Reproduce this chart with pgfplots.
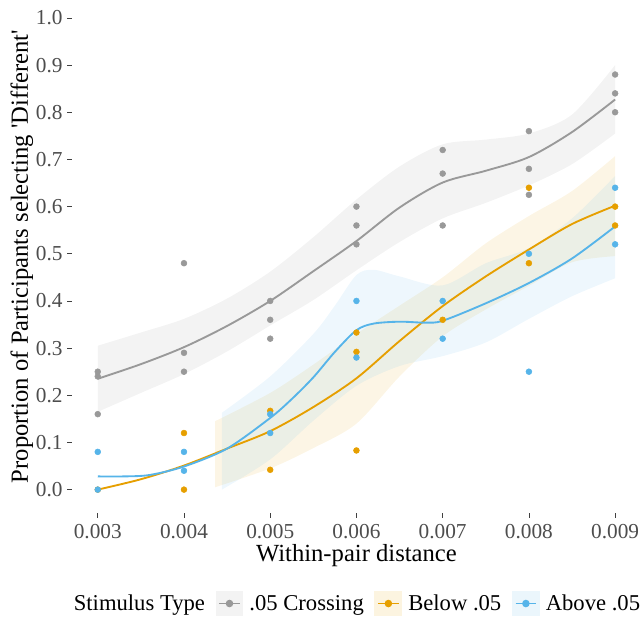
\documentclass[border=0pt]{standalone}
\usepackage{fontspec}
\setmainfont{Liberation Serif}
\newfontfamily\plainserif{Liberation Serif}
\usepackage{pgfplots}
\pgfplotsset{compat=1.18}
\usepgfplotslibrary{fillbetween}

\definecolor{cgray}{HTML}{999999}
\definecolor{corange}{HTML}{E69F00}
\definecolor{cblue}{HTML}{56B4E9}
\definecolor{ticktext}{HTML}{4D4D4D}

% legend key: light square with a line and a dot
\pgfplotsset{keybox/.style={legend image code/.code={
    \fill[#1!12] (0pt,-9pt) rectangle (19.5pt,9pt);
    \draw[#1, line width=1.3pt] (2pt,0pt) -- (17.5pt,0pt);
    \fill[#1] (9.75pt,0pt) circle (2.1pt);}}}

\begin{document}
\begin{tikzpicture}
\begin{axis}[
    at={(0pt,0pt)}, anchor=south west,
    scale only axis, width=427.5pt, height=385.5pt,
    xmin=0.0027, xmax=0.0093, ymin=-0.05, ymax=1.038,
    xtick={0.003,0.004,0.005,0.006,0.007,0.008,0.009},
    xticklabels={0.003,0.004,0.005,0.006,0.007,0.008,0.009},
    ytick={0,0.1,0.2,0.3,0.4,0.5,0.6,0.7,0.8,0.9,1},
    yticklabels={0.0,0.1,0.2,0.3,0.4,0.5,0.6,0.7,0.8,0.9,1.0},
    scaled x ticks=false, scaled y ticks=false,
    axis line style={draw=none},
    tick pos=left, tick align=outside, major tick length=3.5pt,
    tick style={color=black!75, line width=0.5pt},
    ticklabel style={font=\fontsize{16}{19}\selectfont, text=ticktext},
    xticklabel style={yshift=-1.5pt},
    xlabel={Within-pair distance},
    ylabel={Proportion of Participants selecting {\plainserif '}Different{\plainserif '}},
    xlabel style={font=\fontsize{18.5}{22}\selectfont, at={(axis description cs:0.5,-0.082)}, anchor=center},
    ylabel style={font=\fontsize{18.5}{22}\selectfont, at={(axis description cs:-0.088,0.5)}, anchor=center},
    legend columns=-1,
    legend style={at={(0.498,-0.176)}, anchor=center, draw=none, fill=none,
        font=\fontsize{17}{20}\selectfont,
        /tikz/every odd column/.append style={column sep=2.5pt},
        /tikz/every even column/.append style={column sep=6pt}},
]
\addlegendimage{empty legend}
\addlegendentry{Stimulus Type}

% confidence ribbons
\addplot[draw=none, name path=gU, smooth, forget plot] coordinates {
(0.003,0.305)(0.0035,0.333)(0.004,0.362)(0.0045,0.405)(0.005,0.462)(0.0055,0.535)(0.006,0.615)(0.0065,0.685)(0.007,0.732)(0.0075,0.742)(0.008,0.755)(0.0085,0.795)(0.009,0.90)};
\addplot[draw=none, name path=gL, smooth, forget plot] coordinates {
(0.003,0.165)(0.0035,0.205)(0.004,0.245)(0.0045,0.293)(0.005,0.348)(0.0055,0.402)(0.006,0.465)(0.0065,0.525)(0.007,0.575)(0.0075,0.608)(0.008,0.645)(0.0085,0.69)(0.009,0.755)};
\addplot[fill=cgray, fill opacity=0.12, draw=none, forget plot] fill between[of=gU and gL];

\addplot[draw=none, name path=oU, smooth, forget plot] coordinates {
(0.00436,0.145)(0.005,0.205)(0.0055,0.265)(0.006,0.33)(0.0065,0.39)(0.007,0.45)(0.0075,0.522)(0.008,0.58)(0.0085,0.633)(0.009,0.707)};
\addplot[draw=none, name path=oL, smooth, forget plot] coordinates {
(0.00436,0.005)(0.005,0.045)(0.0055,0.088)(0.006,0.14)(0.0065,0.24)(0.007,0.325)(0.0075,0.382)(0.008,0.432)(0.0085,0.482)(0.009,0.495)};
\addplot[fill=corange, fill opacity=0.1, draw=none, forget plot] fill between[of=oU and oL];

\addplot[draw=none, name path=bU, smooth, forget plot] coordinates {
(0.00444,0.163)(0.005,0.24)(0.0055,0.33)(0.00575,0.39)(0.006,0.455)(0.0062,0.466)(0.0065,0.452)(0.007,0.433)(0.0075,0.48)(0.008,0.512)(0.0085,0.575)(0.009,0.665)};
\addplot[draw=none, name path=bL, smooth, forget plot] coordinates {
(0.00444,0.0)(0.005,0.064)(0.0055,0.146)(0.006,0.22)(0.0065,0.262)(0.007,0.283)(0.0075,0.312)(0.008,0.362)(0.0085,0.41)(0.009,0.448)};
\addplot[fill=cblue, fill opacity=0.1, draw=none, forget plot] fill between[of=bU and bL];

% observed proportions
\addplot[only marks, mark=*, mark size=2.2pt, color=cgray, forget plot] coordinates {
(0.003,0.25)(0.003,0.24)(0.003,0.16)
(0.004,0.48)(0.004,0.29)(0.004,0.25)
(0.005,0.40)(0.005,0.36)(0.005,0.32)
(0.006,0.60)(0.006,0.56)(0.006,0.52)
(0.007,0.72)(0.007,0.67)(0.007,0.56)
(0.008,0.76)(0.008,0.68)(0.008,0.625)
(0.009,0.88)(0.009,0.84)(0.009,0.80)};
\addplot[only marks, mark=*, mark size=2.2pt, color=corange, forget plot] coordinates {
(0.003,0.0)(0.004,0.12)(0.004,0.0)(0.005,0.167)(0.005,0.042)
(0.006,0.333)(0.006,0.292)(0.006,0.083)(0.007,0.36)
(0.008,0.64)(0.008,0.48)(0.009,0.60)(0.009,0.56)};
\addplot[only marks, mark=*, mark size=2.2pt, color=cblue, forget plot] coordinates {
(0.003,0.08)(0.003,0.0)(0.004,0.08)(0.004,0.04)(0.005,0.16)(0.005,0.12)
(0.006,0.40)(0.006,0.28)(0.007,0.40)(0.007,0.32)
(0.008,0.50)(0.008,0.25)(0.009,0.64)(0.009,0.52)};

% smoothed fits
\addplot[cgray, line width=1.4pt, smooth, no markers, keybox=cgray] coordinates {
(0.003,0.235)(0.0035,0.266)(0.004,0.302)(0.0045,0.347)(0.005,0.40)(0.0055,0.463)(0.006,0.527)(0.0065,0.598)(0.007,0.651)(0.0075,0.676)(0.008,0.705)(0.0085,0.758)(0.009,0.827)};
\addlegendentry{.05 Crossing}
\addplot[corange, line width=1.4pt, smooth, no markers, keybox=corange] coordinates {
(0.003,0.0)(0.0035,0.022)(0.004,0.051)(0.0045,0.087)(0.005,0.124)(0.0055,0.175)(0.006,0.236)(0.0065,0.315)(0.007,0.389)(0.0075,0.452)(0.008,0.509)(0.0085,0.563)(0.009,0.602)};
\addlegendentry{Below .05}
\addplot[cblue, line width=1.4pt, smooth, no markers, keybox=cblue] coordinates {
(0.003,0.028)(0.0033,0.028)(0.0036,0.031)(0.004,0.049)(0.0045,0.087)(0.005,0.152)(0.00525,0.192)(0.0055,0.238)(0.00575,0.292)(0.006,0.338)(0.0062,0.352)(0.0065,0.356)(0.0068,0.354)(0.007,0.358)(0.0075,0.395)(0.008,0.438)(0.0085,0.49)(0.009,0.558)};
\addlegendentry{Above .05}
\end{axis}
\pgfresetboundingbox
\path[use as bounding box] (-54pt,-78pt) rectangle (427.5pt,385.5pt);
\end{tikzpicture}
\end{document}
